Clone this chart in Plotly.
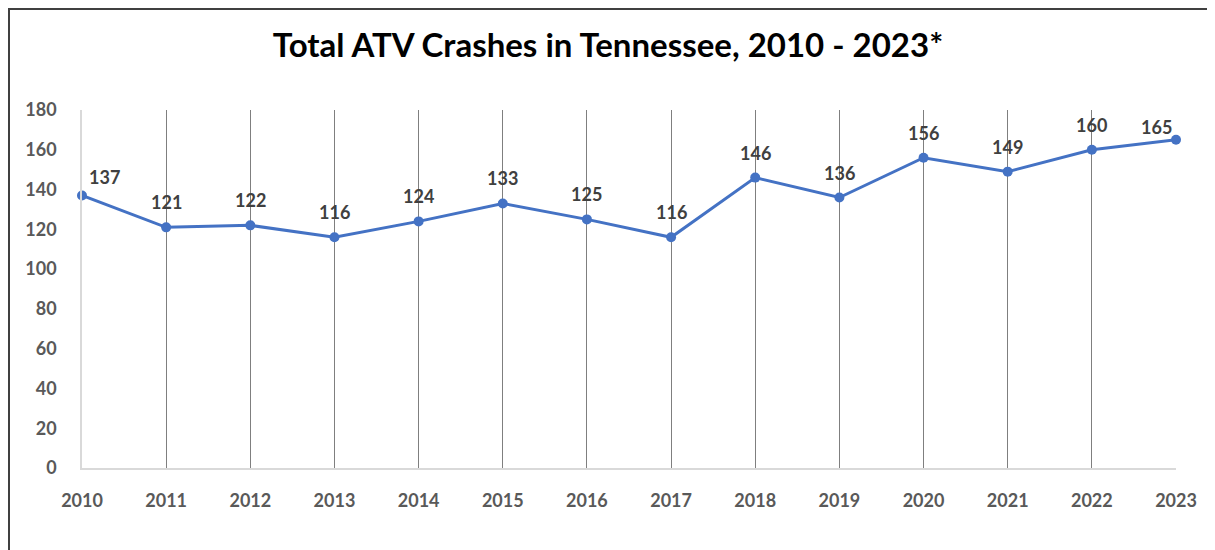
"""
Total ATV crashes in Tennessee, line chart
"""

import plotly.graph_objects as go

years = [2010, 2011, 2012, 2013, 2014, 2015, 2016, 2017, 2018, 2019, 2020, 2021, 2022, 2023]
crashes = [137, 121, 122, 116, 124, 133, 125, 116, 146, 136, 156, 149, 160, 165]
y_ticks = [0, 20, 40, 60, 80, 100, 120, 140, 160, 180]

FONT = "Lato, 'Open Sans', sans-serif"

# page has an 8px body margin, so the figure is a bit smaller than the window
W, H = 1207, 542
L, R, T, B = 74, 39, 102, 82
plot_w = W - L - R
plot_h = H - T - B

fig = go.Figure(go.Scatter(
    x=years,
    y=crashes,
    mode="lines+markers",
    line=dict(color="#4472C4", width=3),
    marker=dict(color="#4472C4", size=10),
    cliponaxis=False,
    hoverinfo="x+y",
))

# value labels above the points, first one nudged right and last one left
for i, (yr, val) in enumerate(zip(years, crashes)):
    xshift, yshift = 0, 25
    if i == 0:
        xshift, yshift = 22, 19
    elif i == len(years) - 1:
        xshift, yshift = -20, 13
    fig.add_annotation(
        x=yr, y=val, text=f"<b>{val}</b>", showarrow=False,
        xshift=xshift, yshift=yshift,
        font=dict(family=FONT, size=18, color="#404040"),
    )

fig.update_layout(
    width=W,
    height=H,
    paper_bgcolor="white",
    plot_bgcolor="white",
    showlegend=False,
    margin=dict(l=L, r=R, t=T, b=B),
    title=dict(
        text="<b>Total ATV Crashes in Tennessee, 2010 - 2023*</b>",
        x=(608 - 8) / W, xanchor="center",
        y=1 - 37 / H, yanchor="middle",
        font=dict(family=FONT, size=33, color="black"),
    ),
    xaxis=dict(
        tickvals=years,
        ticktext=[str(y) for y in years],
        range=[2010, 2023],
        showgrid=True,
        gridcolor="#7f7f7f",
        gridwidth=1,
        showline=True,
        linecolor="#d9d9d9",
        linewidth=1.5,
        zeroline=False,
        ticks="",
        ticklabelstandoff=16,
        tickfont=dict(family=FONT, size=18, color="#595959", weight="bold"),
    ),
    yaxis=dict(
        tickvals=y_ticks,
        range=[0, 180],
        showgrid=False,
        showline=True,
        linecolor="#d9d9d9",
        linewidth=1.5,
        zeroline=False,
        ticks="",
        ticklabelstandoff=20,
        tickfont=dict(family=FONT, size=18, color="#595959", weight="bold"),
    ),
)

# outer chart border (top and left edges visible in the original)
fig.add_shape(
    type="rect", xref="paper", yref="paper",
    x0=(1 - L) / plot_w, x1=1.2, y0=-0.5, y1=(plot_h + T - 1) / plot_h,
    line=dict(color="#404040", width=2),
    fillcolor="rgba(0,0,0,0)", layer="below",
)

fig.write_html("out.html")
